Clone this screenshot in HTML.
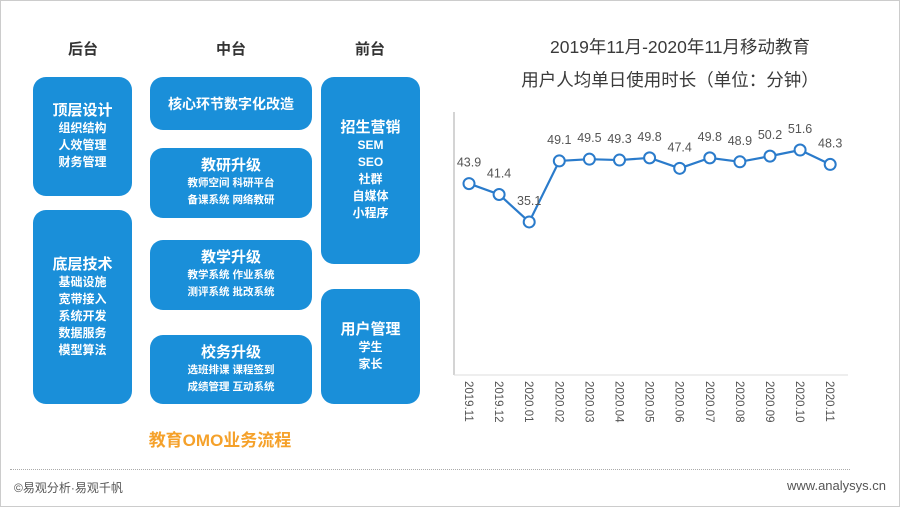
<!DOCTYPE html>
<html><head><meta charset="utf-8"><style>
body{margin:0;width:900px;height:507px;background:#fff;overflow:hidden;font-family:"Liberation Sans","Noto Sans CJK SC",sans-serif;}
.frame{position:absolute;left:0;top:0;width:898px;height:505px;border:1px solid #ccc;}
.box{position:absolute;background:#1a8fd9;border-radius:13px;color:#fff;text-align:center;font-weight:bold;display:flex;flex-direction:column;justify-content:center;align-items:center;}
.hd{position:absolute;top:38px;font-size:15px;font-weight:bold;color:#333;width:100px;text-align:center;}
.t1{font-size:15px;line-height:18px}
.t2{font-size:12px;line-height:17px}
.t3{font-size:10.5px;line-height:17px}
</style></head><body>
<div class="frame"></div>
<div class="hd" style="left:33px">后台</div>
<div class="hd" style="left:181px">中台</div>
<div class="hd" style="left:320px">前台</div>

<div class="box" style="left:33px;top:77px;width:99px;height:119px"><div class="t1">顶层设计</div><div class="t2">组织结构<br>人效管理<br>财务管理</div></div>
<div class="box" style="left:33px;top:210px;width:99px;height:194px"><div class="t1">底层技术</div><div class="t2">基础设施<br>宽带接入<br>系统开发<br>数据服务<br>模型算法</div></div>

<div class="box" style="left:150px;top:77px;width:162px;height:53px"><div class="t1" style="font-size:14px">核心环节数字化改造</div></div>
<div class="box" style="left:150px;top:148px;width:162px;height:70px"><div class="t1">教研升级</div><div class="t3">教师空间 科研平台<br>备课系统 网络教研</div></div>
<div class="box" style="left:150px;top:240px;width:162px;height:70px"><div class="t1">教学升级</div><div class="t3">教学系统 作业系统<br>测评系统 批改系统</div></div>
<div class="box" style="left:150px;top:335px;width:162px;height:69px"><div class="t1">校务升级</div><div class="t3">选班排课 课程签到<br>成绩管理 互动系统</div></div>

<div class="box" style="left:321px;top:77px;width:99px;height:187px"><div class="t1">招生营销</div><div class="t2">SEM<br>SEO<br>社群<br>自媒体<br>小程序</div></div>
<div class="box" style="left:321px;top:289px;width:99px;height:115px"><div class="t1">用户管理</div><div class="t2">学生<br>家长</div></div>

<div style="position:absolute;left:100px;top:426px;width:240px;text-align:center;color:#f5a12a;font-size:17px;font-weight:bold">教育OMO业务流程</div>

<div style="position:absolute;left:460px;top:34px;width:440px;text-align:center;color:#3a3a3a;font-size:17.5px">2019年11月-2020年11月移动教育</div>
<div style="position:absolute;left:450px;top:67px;width:440px;text-align:center;color:#3a3a3a;font-size:17.5px">用户人均单日使用时长（单位：分钟）</div>

<svg id="chart" width="900" height="507" style="position:absolute;left:0;top:0"></svg>

<div style="position:absolute;left:10px;top:469px;width:840px;border-top:1px dotted #aaa"></div>
<div style="position:absolute;left:14px;top:479px;font-size:12px;color:#555">©易观分析·易观千帆</div>
<div style="position:absolute;right:14px;top:478px;font-size:13px;color:#555">www.analysys.cn</div>

<script>
const categories=["2019.11","2019.12","2020.01","2020.02","2020.03","2020.04","2020.05","2020.06","2020.07","2020.08","2020.09","2020.10","2020.11"];
const values=[43.9,41.4,35.1,49.1,49.5,49.3,49.8,47.4,49.8,48.9,50.2,51.6,48.3];
const valueLabels=["43.9","41.4","35.1","49.1","49.5","49.3","49.8","47.4","49.8","48.9","50.2","51.6","48.3"];
const NS="http://www.w3.org/2000/svg";
const svg=document.getElementById('chart');
const x0=469,step=30.1,yBase=375,k=4.36;
const xs=i=>x0+i*step, ys=v=>yBase-v*k;
function mk(t,a){const e=document.createElementNS(NS,t);for(const n in a)e.setAttribute(n,a[n]);svg.appendChild(e);return e;}
let ax=mk('line',{x1:454,y1:112,x2:454,y2:375,stroke:'#aaa','stroke-width':1});


let bx=mk('line',{x1:454,y1:375,x2:848,y2:375,stroke:'#ddd','stroke-width':1});


let path=values.map((v,i)=>(i?'L':'M')+xs(i)+','+ys(v)).join(' ');
let ln=mk('path',{d:path,fill:'none',stroke:'#2a7bcb','stroke-width':2.2});


values.forEach((v,i)=>{
  let c=mk('circle',{cx:xs(i),cy:ys(v),r:5.5,fill:'#fff',stroke:'#2a7bcb','stroke-width':2});
  
  
  let t=mk('text',{x:xs(i),y:ys(v)-17,'text-anchor':'middle','font-size':12.5,fill:'#555'});
  t.textContent=valueLabels[i];
  
  
  let tl=mk('text',{x:0,y:0,'font-size':11.5,fill:'#555',transform:'translate('+(xs(i)-4)+',381) rotate(90)'});
  tl.textContent=categories[i];
  
  
});
</script>
</body></html>
